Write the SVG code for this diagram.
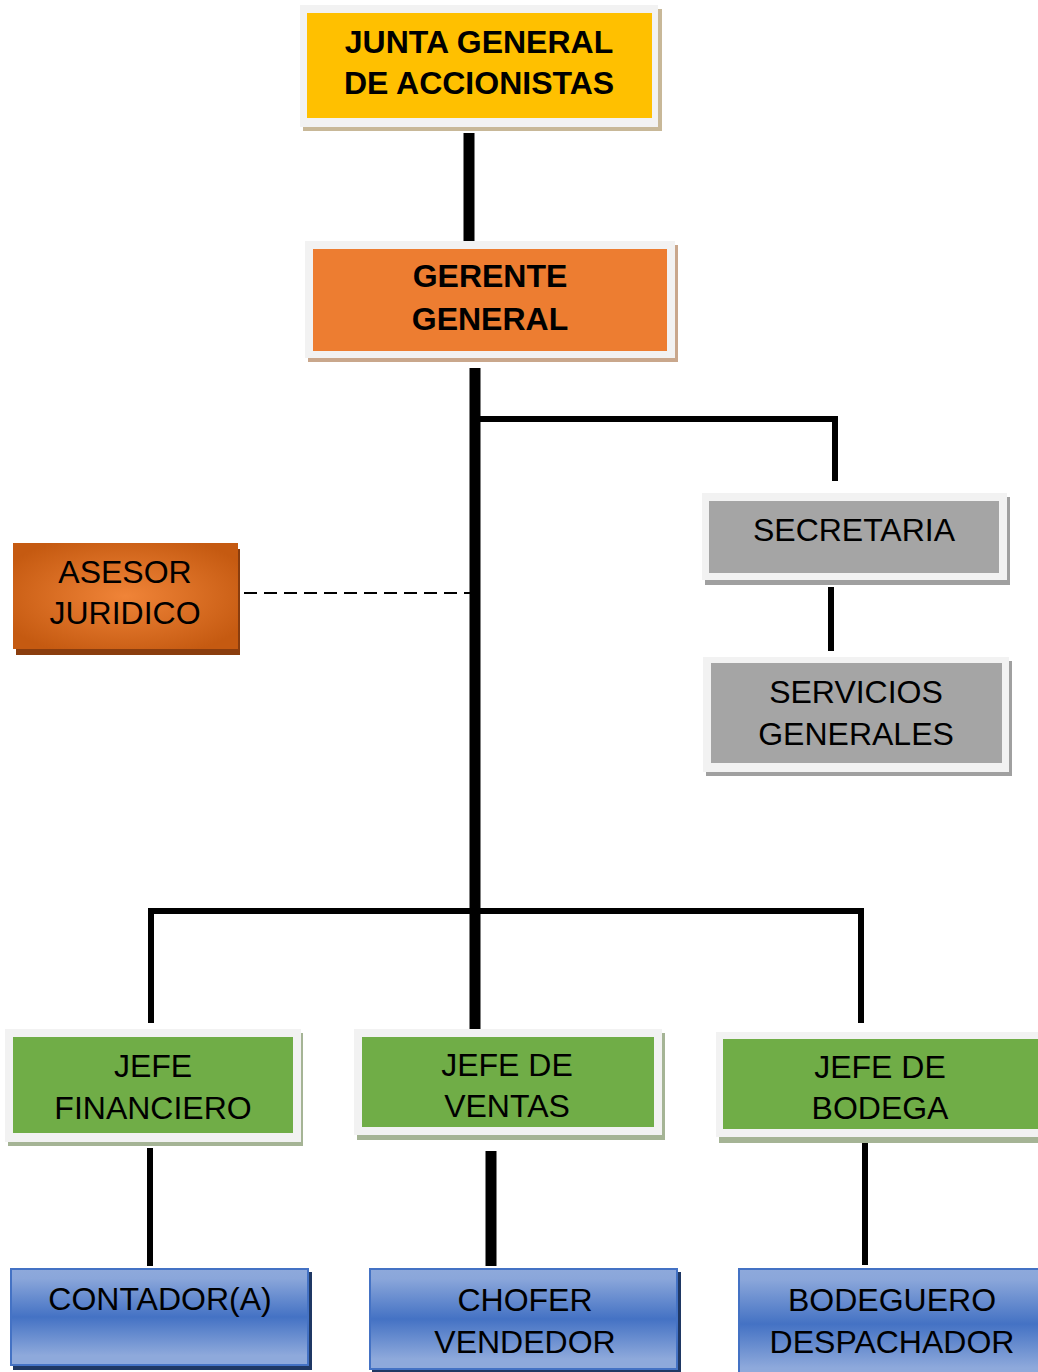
<svg xmlns="http://www.w3.org/2000/svg" width="1038" height="1372" viewBox="0 0 1038 1372">
<defs>
<radialGradient id="gOrange" cx="50%" cy="50%" r="60%">
<stop offset="0" stop-color="#F08438"/>
<stop offset="1" stop-color="#C55A11"/>
</radialGradient>
<linearGradient id="gBlue" x1="0" y1="0" x2="0" y2="1">
<stop offset="0" stop-color="#8EA9DB"/>
<stop offset="0.1" stop-color="#8AA6DA"/>
<stop offset="0.5" stop-color="#4472C4"/>
<stop offset="0.9" stop-color="#8EA9DB"/>
<stop offset="1" stop-color="#8EA9DB"/>
</linearGradient>
</defs>
<style>
.t{font-family:"Liberation Sans",Arial,sans-serif;font-size:32px;fill:#000;text-anchor:middle}
.b{font-weight:bold}
.frame{fill:#F2F2F2}
.thick{stroke:#000;stroke-width:11;fill:none}
.thin{stroke:#000;stroke-width:6;fill:none}
.dash{stroke:#000;stroke-width:2;stroke-dasharray:13 7;fill:none}
</style>
<rect width="1038" height="1372" fill="#fff"/>
<g id="connectors">
<line class="thick" x1="469" y1="133" x2="469" y2="242"/>
<line class="thick" x1="475" y1="368" x2="475" y2="1029"/>
<polyline class="thin" points="478,419 835,419 835,481"/>
<line class="thin" x1="831" y1="587" x2="831" y2="651"/>
<line class="dash" x1="244" y1="593" x2="470" y2="593"/>
<polyline class="thin" points="151,1023 151,911 861,911 861,1023"/>
<line class="thin" x1="150" y1="1148" x2="150" y2="1266"/>
<line class="thick" x1="491" y1="1151" x2="491" y2="1266"/>
<line class="thin" x1="865" y1="1142" x2="865" y2="1265"/>
</g>
<g id="junta">
<rect x="303" y="9" width="359" height="122" fill="#C8B898"/>
<rect class="frame" x="300" y="5" width="358" height="122"/>
<rect x="307" y="13" width="345" height="105" fill="#FFC000"/>
<text class="t b" x="479" y="53">JUNTA GENERAL</text>
<text class="t b" x="479" y="94">DE ACCIONISTAS</text>
</g>
<g id="gerente">
<rect x="308" y="245" width="370" height="117" fill="#C9A78C"/>
<rect class="frame" x="305" y="241" width="370" height="117"/>
<rect x="313" y="249" width="354" height="102" fill="#ED7D31"/>
<text class="t b" x="490" y="287">GERENTE</text>
<text class="t b" x="490" y="330">GENERAL</text>
</g>
<g id="asesor">
<rect x="16" y="549" width="224" height="106" fill="#8A3D0E"/>
<rect x="13" y="543" width="225" height="106" fill="url(#gOrange)"/>
<text class="t" x="125" y="583">ASESOR</text>
<text class="t" x="125" y="624">JURIDICO</text>
</g>
<g id="secretaria">
<rect x="705" y="497" width="305" height="88" fill="#A0A0A0"/>
<rect class="frame" x="702" y="493" width="305" height="87"/>
<rect x="709" y="501" width="290" height="72" fill="#A5A5A5"/>
<text class="t" x="854" y="541">SECRETARIA</text>
</g>
<g id="servicios">
<rect x="706" y="661" width="306" height="115" fill="#A0A0A0"/>
<rect class="frame" x="703" y="657" width="306" height="115"/>
<rect x="711" y="663" width="291" height="100" fill="#A5A5A5"/>
<text class="t" x="856" y="703">SERVICIOS</text>
<text class="t" x="856" y="745">GENERALES</text>
</g>
<g id="financiero">
<rect x="8" y="1033" width="295" height="113" fill="#A5B495"/>
<rect class="frame" x="5" y="1029" width="296" height="113"/>
<rect x="13" y="1037" width="280" height="96" fill="#70AD47"/>
<text class="t" x="153" y="1077">JEFE</text>
<text class="t" x="153" y="1119">FINANCIERO</text>
</g>
<g id="ventas">
<rect x="357" y="1033" width="308" height="107" fill="#A5B495"/>
<rect class="frame" x="354" y="1029" width="308" height="106"/>
<rect x="362" y="1037" width="292" height="90" fill="#70AD47"/>
<text class="t" x="507" y="1076">JEFE DE</text>
<text class="t" x="507" y="1117">VENTAS</text>
</g>
<g id="bodega">
<rect x="719" y="1037" width="340" height="106" fill="#A5B495"/>
<rect class="frame" x="716" y="1032" width="340" height="105"/>
<rect x="723" y="1039" width="330" height="90" fill="#70AD47"/>
<text class="t" x="880" y="1078">JEFE DE</text>
<text class="t" x="880" y="1119">BODEGA</text>
</g>
<g id="contador">
<rect x="13" y="1272" width="299" height="98" fill="#1F3864"/>
<rect x="11" y="1269" width="297" height="96" fill="url(#gBlue)" stroke="#4472C4" stroke-width="2"/>
<text class="t" x="160" y="1310">CONTADOR(A)</text>
</g>
<g id="chofer">
<rect x="372" y="1272" width="309" height="100" fill="#1F3864"/>
<rect x="370" y="1269" width="307" height="100" fill="url(#gBlue)" stroke="#4472C4" stroke-width="2"/>
<text class="t" x="525" y="1311">CHOFER</text>
<text class="t" x="525" y="1353">VENDEDOR</text>
</g>
<g id="bodeguero">
<rect x="741" y="1272" width="310" height="110" fill="#1F3864"/>
<rect x="739" y="1269" width="310" height="110" fill="url(#gBlue)" stroke="#4472C4" stroke-width="2"/>
<text class="t" x="892" y="1311">BODEGUERO</text>
<text class="t" x="892" y="1353">DESPACHADOR</text>
</g>
</svg>
